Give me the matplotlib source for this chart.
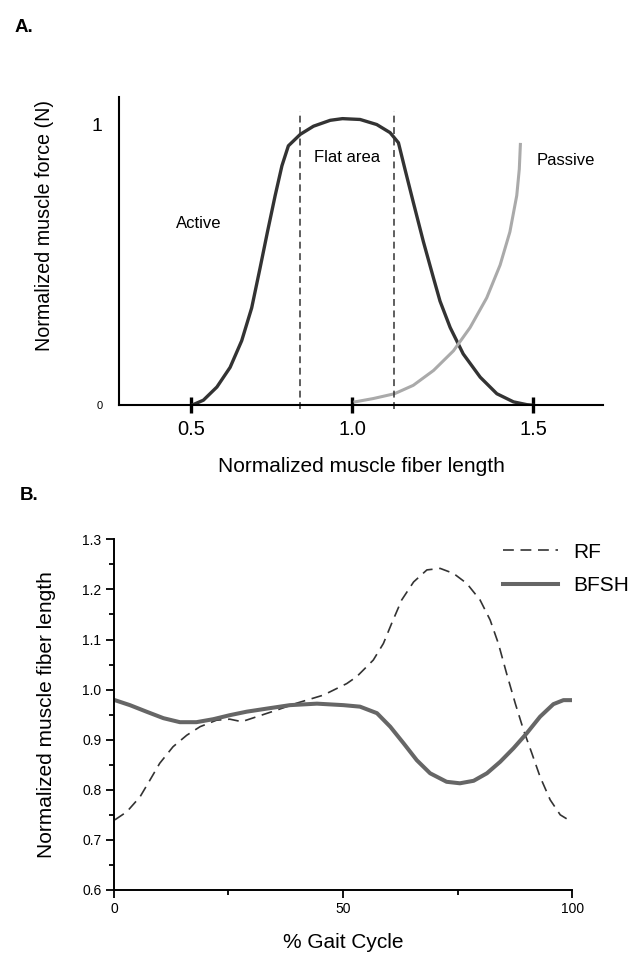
import numpy as np
import matplotlib
matplotlib.use("Agg")
import matplotlib.pyplot as plt

plt.rcParams['font.family'] = ['Liberation Sans', 'DejaVu Sans']
plt.rcParams['lines.solid_joinstyle'] = 'round'
plt.rcParams['lines.dash_joinstyle'] = 'round'

# Panel A: force-length relationship (schematic)
active_len = [0.502, 0.538, 0.580, 0.621, 0.657, 0.688, 0.714, 0.737, 0.761, 0.782, 0.802,
              0.839, 0.880, 0.932, 0.970, 1.022, 1.068, 1.105, 1.128, 1.146, 1.169, 1.197,
              1.225, 1.243, 1.271, 1.307, 1.354, 1.400, 1.446, 1.483, 1.500]
active_force = [0.0, 0.018, 0.065, 0.135, 0.23, 0.347, 0.489, 0.618, 0.748, 0.854, 0.925,
                0.966, 0.995, 1.016, 1.022, 1.019, 1.001, 0.972, 0.936, 0.842, 0.724, 0.583,
                0.453, 0.371, 0.277, 0.183, 0.10, 0.041, 0.012, 0.002, 0.0]
passive_len = [1.008, 1.059, 1.117, 1.169, 1.225, 1.280, 1.326, 1.372, 1.409, 1.436,
               1.455, 1.462, 1.465]
passive_force = [0.012, 0.024, 0.041, 0.071, 0.124, 0.194, 0.277, 0.383, 0.50, 0.618,
                 0.748, 0.842, 0.93]
flat_bounds = [0.838, 1.117]
a_ticks = [0.5, 1.0, 1.5]
a_tick_labels = ["0.5", "1.0", "1.5"]

# Panel B: fiber length over the gait cycle
gait_rf = [0.2, 2.8, 5.7, 7.9, 10.0, 12.9, 15.9, 18.8, 22.4, 25.3, 27.9, 31.2, 35.5, 39.9,
           45.7, 50.8, 53.0, 56.6, 58.8, 60.6, 62.8, 65.4, 68.3, 71.2, 74.1, 77.0, 79.9,
           82.1, 83.9, 85.7, 87.6, 89.4, 91.2, 93.0, 95.2, 97.4, 99.9]
rf = [0.740, 0.756, 0.786, 0.820, 0.853, 0.886, 0.909, 0.926, 0.939, 0.941, 0.936, 0.946,
      0.959, 0.973, 0.989, 1.012, 1.026, 1.059, 1.092, 1.132, 1.179, 1.215, 1.239, 1.242,
      1.232, 1.212, 1.179, 1.139, 1.092, 1.032, 0.972, 0.919, 0.873, 0.826, 0.780, 0.750,
      0.736]
gait_bfsh = [0.2, 3.5, 7.1, 10.8, 14.4, 18.0, 21.7, 25.3, 29.0, 33.3, 38.4, 44.3, 50.1,
             53.7, 57.4, 60.3, 63.2, 66.1, 69.0, 72.6, 75.5, 78.5, 81.4, 84.3, 87.2, 90.1,
             93.0, 95.9, 98.1, 99.9]
bfsh = [0.979, 0.969, 0.956, 0.943, 0.935, 0.935, 0.941, 0.949, 0.956, 0.962, 0.969, 0.972,
        0.969, 0.966, 0.953, 0.926, 0.893, 0.859, 0.833, 0.816, 0.813, 0.818, 0.833, 0.856,
        0.883, 0.913, 0.946, 0.971, 0.979, 0.979]

K = 1.124  # the schematic's x axis is stretched above 1.0


def fwd(x):
    x = np.asarray(x, dtype=float)
    return np.where(x <= 1, x, 1 + (x - 1) * K)


def inv(y):
    y = np.asarray(y, dtype=float)
    return np.where(y <= 1, y, 1 + (y - 1) / K)


fig = plt.figure(figsize=(6.4, 9.58), dpi=100)

# ---- A ----
ax = fig.add_axes([0.186, 0.577, 0.756, 0.322])
ax.set_xscale('function', functions=(fwd, inv))
ax.plot(active_len, active_force, color="#333333", lw=2.4)
ax.plot(passive_len, passive_force, color="#aaaaaa", lw=2.2, clip_on=False)
for xb in flat_bounds:
    ax.plot([xb, xb], [-0.012, 1.05], color="#333333", lw=1.1, ls=(0, (4.5, 3)), clip_on=False)
ax.set_xlim(0.276, 1.693)
ax.set_ylim(0, 1.1)
ax.spines[['top', 'right']].set_visible(False)
ax.spines[['left', 'bottom']].set_linewidth(1.5)
ax.set_xticks(a_ticks)
ax.set_xticklabels(a_tick_labels, fontsize=14.5)
ax.tick_params(axis='x', direction='inout', length=11, width=2.4, pad=5)
ax.set_yticks([0, 1])
ax.set_yticklabels(["0", "1"])
ax.get_yticklabels()[0].set_fontsize(8)
ax.get_yticklabels()[1].set_fontsize(14)
ax.tick_params(axis='y', length=0, pad=12)
ax.set_xlabel("Normalized muscle fiber length", fontsize=15, labelpad=13)
ax.set_ylabel("Normalized muscle force (N)", fontsize=14.2)
ax.yaxis.set_label_coords(-0.134, 0.584)
ax.text(0.525, 0.648, "Active", fontsize=12, ha='center', va='center')
ax.text(0.984, 0.883, "Flat area", fontsize=12, ha='center', va='center')
ax.text(1.591, 0.872, "Passive", fontsize=12, ha='center', va='center')
fig.text(15 / 640, 1 - 27 / 958, "A.", fontsize=13.5, fontweight='bold', va='center')

# ---- B ----
bx = fig.add_axes([0.178, 0.071, 0.716, 0.366])
bx.plot(gait_rf, rf, color="#333333", lw=1.2, ls=(0, (6.5, 4)), label="RF")
bx.plot(gait_bfsh, bfsh, color="#666666", lw=2.9, label="BFSH")
bx.set_xlim(0, 100)
bx.set_ylim(0.6, 1.3)
bx.spines[['top', 'right']].set_visible(False)
bx.spines[['left', 'bottom']].set_linewidth(1.4)
bx.set_xticks([0, 50, 100])
bx.set_xticks([25, 75], minor=True)
bx.set_yticks(np.round(np.arange(0.6, 1.31, 0.1), 1))
bx.set_yticks(np.round(np.arange(0.65, 1.3, 0.1), 2), minor=True)
bx.tick_params(which='major', length=6, width=1.3, labelsize=10, pad=3)
bx.tick_params(which='minor', length=3.5, width=1.3)
bx.set_xlabel("% Gait Cycle", fontsize=15, labelpad=12)
bx.set_ylabel("Normalized muscle fiber length", fontsize=15, labelpad=19)
bx.legend(frameon=False, fontsize=15, loc='upper left', handlelength=2.64,
          handletextpad=0.72, labelspacing=0.7, borderpad=0, borderaxespad=0,
          bbox_to_anchor=(503 / 640, 1 - 542.5 / 958), bbox_transform=fig.transFigure)
fig.text(20 / 640, 1 - 495 / 958, "B.", fontsize=13.5, fontweight='bold', va='center')

fig.savefig("out.png", dpi=100, facecolor="white")
